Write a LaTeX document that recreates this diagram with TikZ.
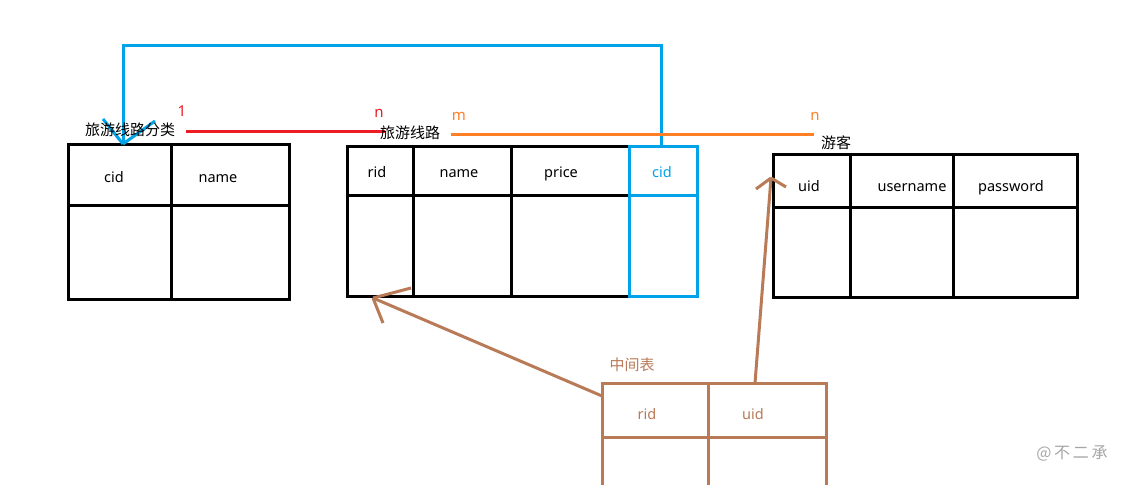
\documentclass[tikz,border=0pt]{standalone}
\usepackage{fontspec}
\setmainfont{Noto Sans}
\newfontfamily\cjk{Noto Sans CJK SC}
\definecolor{paintred}{HTML}{ED1C24}
\definecolor{paintorange}{HTML}{FF7F27}
\definecolor{paintblue}{HTML}{00A2E8}
\definecolor{paintbrown}{HTML}{B97A57}
\tikzset{
  field/.style={inner sep=0pt, text height=1.5ex, text depth=.3ex, yshift=-2pt, font=\fontsize{14.5}{17}\selectfont},
  tname/.style={inner sep=0pt, font=\cjk\fontsize{15}{18}\selectfont},
  card/.style={inner sep=0pt, text height=1.5ex, text depth=.3ex, font=\fontsize{15}{18}\selectfont},
}
\begin{document}
\begin{tikzpicture}[x=1pt,y=-1pt,line width=3pt]
\useasboundingbox[fill=white] (0,0) rectangle (1131,484);

% 旅游线路分类
\draw (68,144) rectangle (289,299);
\draw (68,205) -- (289,205);
\draw (171,144) -- (171,299);
\node[field] (catcid) at (114,177) {cid};
\node[field] (catname) at (218,177) {name};

% 旅游线路
\draw (629,146) -- (347,146) -- (347,296) -- (629,296);
\draw (347,195) -- (629,195);
\draw (413,146) -- (413,296);
\draw (511,146) -- (511,296);
\draw[paintblue] (629,146) rectangle (697,296);
\draw[paintblue] (629,195) -- (697,195);
\node[field] (rid) at (377,172) {rid};
\node[field] (rname) at (459,172) {name};
\node[field] (price) at (561,172) {price};
\node[field, paintblue] (rcid) at (662,172) {cid};

% 游客
\draw (773,154) rectangle (1077,297);
\draw (773,207) -- (1077,207);
\draw (850,154) -- (850,297);
\draw (953,154) -- (953,297);
\node[field] (uid) at (809,186) {uid};
\node[field] (uname) at (912,186) {username};
\node[field] (upwd) at (1011,186) {password};

% 中间表
\begin{scope}[paintbrown]
\draw (602,486) -- (602,383) -- (826,383) -- (826,486);
\draw (602,437) -- (826,437);
\draw (708,383) -- (708,486);
\node[field] (mrid) at (647,414) {rid};
\node[field] (muid) at (753,414) {uid};
\end{scope}

% foreign key cid
\coordinate (cidtop) at (661,146);
\coordinate (cattip) at (123,144);
\draw[paintblue] (cidtop) -- (661,46) -| (cattip);
\draw[paintblue] (cattip) -- ++(-20,-25);
\draw[paintblue] (cattip) -- ++(32,-23);

% 1 : n
\coordinate (redA) at (186,131);
\coordinate (redB) at (385,131);
\draw[paintred] (redA) -- (redB);
\node[card, paintred] (one) at (182,113) {1};
\node[card, paintred] (nred) at (379,114) {n};

% m : n
\coordinate (orgA) at (451,134);
\coordinate (orgB) at (814,134);
\draw[paintorange] (orgA) -- (orgB);
\node[card, paintorange] (morg) at (459,117) {m};
\node[card, paintorange] (norg) at (815,117) {n};

% middle table arrows
\coordinate (midL) at (602,396);
\coordinate (ridtip) at (373,298);
\draw[paintbrown] (midL) -- (ridtip);
\draw[paintbrown] (ridtip) -- ++(38,-10);
\draw[paintbrown] (ridtip) -- ++(10,25);
\coordinate (midR) at (755,383);
\coordinate (uidtip) at (771,178);
\draw[paintbrown] (midR) -- (uidtip);
\draw[paintbrown] (uidtip) -- ++(-15,11);
\draw[paintbrown] (uidtip) -- ++(15,9);

% table names
\node[tname] (cattitle) at (130,130) {旅游线路分类};
\node[tname] (routetitle) at (410,133) {旅游线路};
\node[tname] (usertitle) at (836,143) {游客};
\node[tname, paintbrown] (midtitle) at (632,365) {中间表};
\node[tname, gray!70, font=\cjk\fontsize{16}{18}\selectfont] (mark) at (1072,453) {@\,不\,二\,承};
\end{tikzpicture}
\end{document}
